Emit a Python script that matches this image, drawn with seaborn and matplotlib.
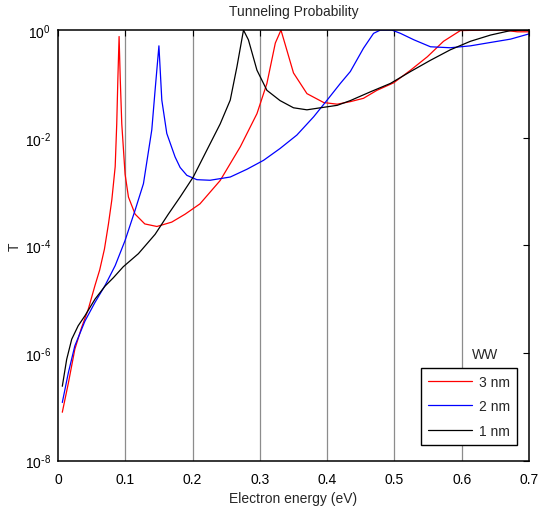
import matplotlib
matplotlib.use("Agg")
import matplotlib.pyplot as plt
import matplotlib.ticker as mticker
import seaborn as sns
import pandas as pd
import math

# ---- data ----
x_3nm = [0.0064, 0.0154, 0.025, 0.035, 0.045, 0.055, 0.062, 0.069, 0.075, 0.080, 0.085,
         0.0873, 0.089, 0.0908, 0.0925, 0.0948, 0.0997, 0.1047, 0.1146, 0.129, 0.147, 0.169,
         0.189, 0.211, 0.241, 0.271, 0.2957, 0.3105, 0.323, 0.3314, 0.340, 0.350, 0.370,
         0.395, 0.415, 0.435, 0.454, 0.474, 0.499, 0.524, 0.549, 0.573, 0.598, 0.632, 0.662,
         0.6825, 0.700]
t_3nm = [7.9e-8, 2.75e-7, 1.17e-6, 2.95e-6, 6.5e-6, 1.8e-5, 3.5e-5, 8.5e-5, 2.5e-4, 7e-4, 2.9e-3,
         1.8e-2, 0.126, 0.76, 0.126, 1.8e-2, 2.1e-3, 7.9e-4, 3.8e-4, 2.5e-4, 2.24e-4, 2.7e-4,
         3.8e-4, 5.9e-4, 1.6e-3, 6.8e-3, 2.8e-2, 0.102, 0.575, 1.0, 0.43, 0.16, 0.066,
         0.045, 0.042, 0.047, 0.054, 0.076, 0.105, 0.18, 0.32, 0.62, 0.98, 1.0, 1.0,
         0.93, 0.93]

x_2nm = [0.0064, 0.0154, 0.025, 0.040, 0.055, 0.070, 0.085, 0.0997, 0.1146, 0.127, 0.1394,
         0.1443, 0.150, 0.1543, 0.1617, 0.174, 0.1815, 0.1915, 0.2064, 0.226, 0.256, 0.281,
         0.3055, 0.330, 0.355, 0.380, 0.400, 0.4196, 0.4345, 0.454, 0.469, 0.479, 0.4965,
         0.509, 0.529, 0.5536, 0.583, 0.613, 0.643, 0.6726, 0.700]
t_2nm = [1.2e-7, 4.3e-7, 1.35e-6, 3.9e-6, 8.7e-6, 1.8e-5, 4.2e-5, 1.23e-4, 4.5e-4, 1.4e-3, 1.4e-2,
         7.6e-2, 0.51, 5e-2, 1.2e-2, 4.4e-3, 2.8e-3, 2.0e-3, 1.66e-3, 1.62e-3, 1.86e-3, 2.6e-3,
         3.8e-3, 6.3e-3, 1.12e-2, 2.45e-2, 5e-2, 0.102, 0.17, 0.46, 0.87, 1.0, 1.0,
         0.87, 0.66, 0.49, 0.47, 0.51, 0.59, 0.68, 0.85]

x_1nm = [0.0064, 0.0129, 0.0204, 0.030, 0.040, 0.055, 0.070, 0.0823, 0.097, 0.1195, 0.1443,
         0.164, 0.1815, 0.201, 0.221, 0.241, 0.256, 0.266, 0.2757, 0.283, 0.2957, 0.3105,
         0.330, 0.350, 0.370, 0.390, 0.415, 0.4345, 0.464, 0.494, 0.524, 0.5536, 0.583,
         0.613, 0.643, 0.6726, 0.700]
t_1nm = [2.4e-7, 7.6e-7, 1.8e-6, 3.2e-6, 4.9e-6, 1e-5, 1.75e-5, 2.5e-5, 4.0e-5, 7e-5, 1.6e-4,
         3.8e-4, 7.9e-4, 1.86e-3, 5.8e-3, 1.8e-2, 5e-2, 0.21, 1.0, 0.66, 0.18, 0.076,
         0.049, 0.036, 0.033, 0.036, 0.040, 0.049, 0.071, 0.102, 0.17, 0.275, 0.43,
         0.62, 0.81, 0.98, 1.0]

series_labels = ["3 nm", "2 nm", "1 nm"]
series_colors = ["#ff0000", "#0000ff", "#000000"]
x_ticks = [0, 0.1, 0.2, 0.3, 0.4, 0.5, 0.6, 0.7]
x_tick_labels = ["0", "0.1", "0.2", "0.3", "0.4", "0.5", "0.6", "0.7"]
y_ticks = [1e-8, 1e-6, 1e-4, 1e-2, 1e0]

frames = []
for lab, xs, ts in zip(series_labels, [x_3nm, x_2nm, x_1nm], [t_3nm, t_2nm, t_1nm]):
    frames.append(pd.DataFrame({"E": xs, "T": ts, "WW": lab}))
df = pd.concat(frames, ignore_index=True)

sns.set_style("white")
plt.rcParams["font.family"] = ["Liberation Sans", "DejaVu Sans"]
plt.rcParams["font.size"] = 10
plt.rcParams["axes.unicode_minus"] = False

fig = plt.figure(figsize=(5.39, 5.10), dpi=100)
ax = fig.add_axes([0.1076, 0.095, 0.8738, 0.844])

sns.lineplot(data=df, x="E", y="T", hue="WW", hue_order=series_labels,
             palette=series_colors, estimator=None, sort=False, lw=0.9,
             legend=False, ax=ax)

ax.set_yscale("log")
ax.set_xlim(0, 0.7)
ax.set_ylim(1e-8, 1e0)
ax.set_xticks(x_ticks)
ax.set_xticklabels(x_tick_labels)
ax.set_yticks(y_ticks)
ax.yaxis.set_minor_locator(mticker.NullLocator())


def _fmt(v, pos):
    e = int(round(math.log10(v)))
    if e < 0:
        return r"$\mathdefault{10^{\text{-}%d}}$" % abs(e)
    return r"$\mathdefault{10^{%d}}$" % e


ax.yaxis.set_major_formatter(mticker.FuncFormatter(_fmt))

for xv in x_ticks[1:-1]:
    ax.axvline(xv, color="#8c8c8c", lw=0.9, zorder=0)

ax.tick_params(direction="in", top=True, right=True, length=4, width=0.8,
               labelsize=10, colors="black")
ax.tick_params(axis="x", pad=8)
ax.tick_params(axis="y", pad=5)
for sp in ax.spines.values():
    sp.set_visible(True)
    sp.set_color("black")
    sp.set_linewidth(1.1)

ax.set_title("Tunneling Probability", fontsize=10, pad=11)
ax.set_xlabel("Electron energy (eV)", fontsize=10, labelpad=4)
ax.set_ylabel("T", fontsize=10, labelpad=2)

handles = ax.get_lines()[:3]
leg = ax.legend(handles, series_labels, loc="lower right",
                bbox_to_anchor=(0.975, 0.037), frameon=True, fancybox=False,
                edgecolor="black", framealpha=1, fontsize=10, handlelength=3.2,
                handletextpad=0.5, borderpad=0.5, labelspacing=0.75, borderaxespad=0)
leg.get_frame().set_linewidth(1.0)
ax.text(0.9066, 0.247, "WW", transform=ax.transAxes, ha="center", va="center", fontsize=10)

fig.savefig("out.png", dpi=100)
